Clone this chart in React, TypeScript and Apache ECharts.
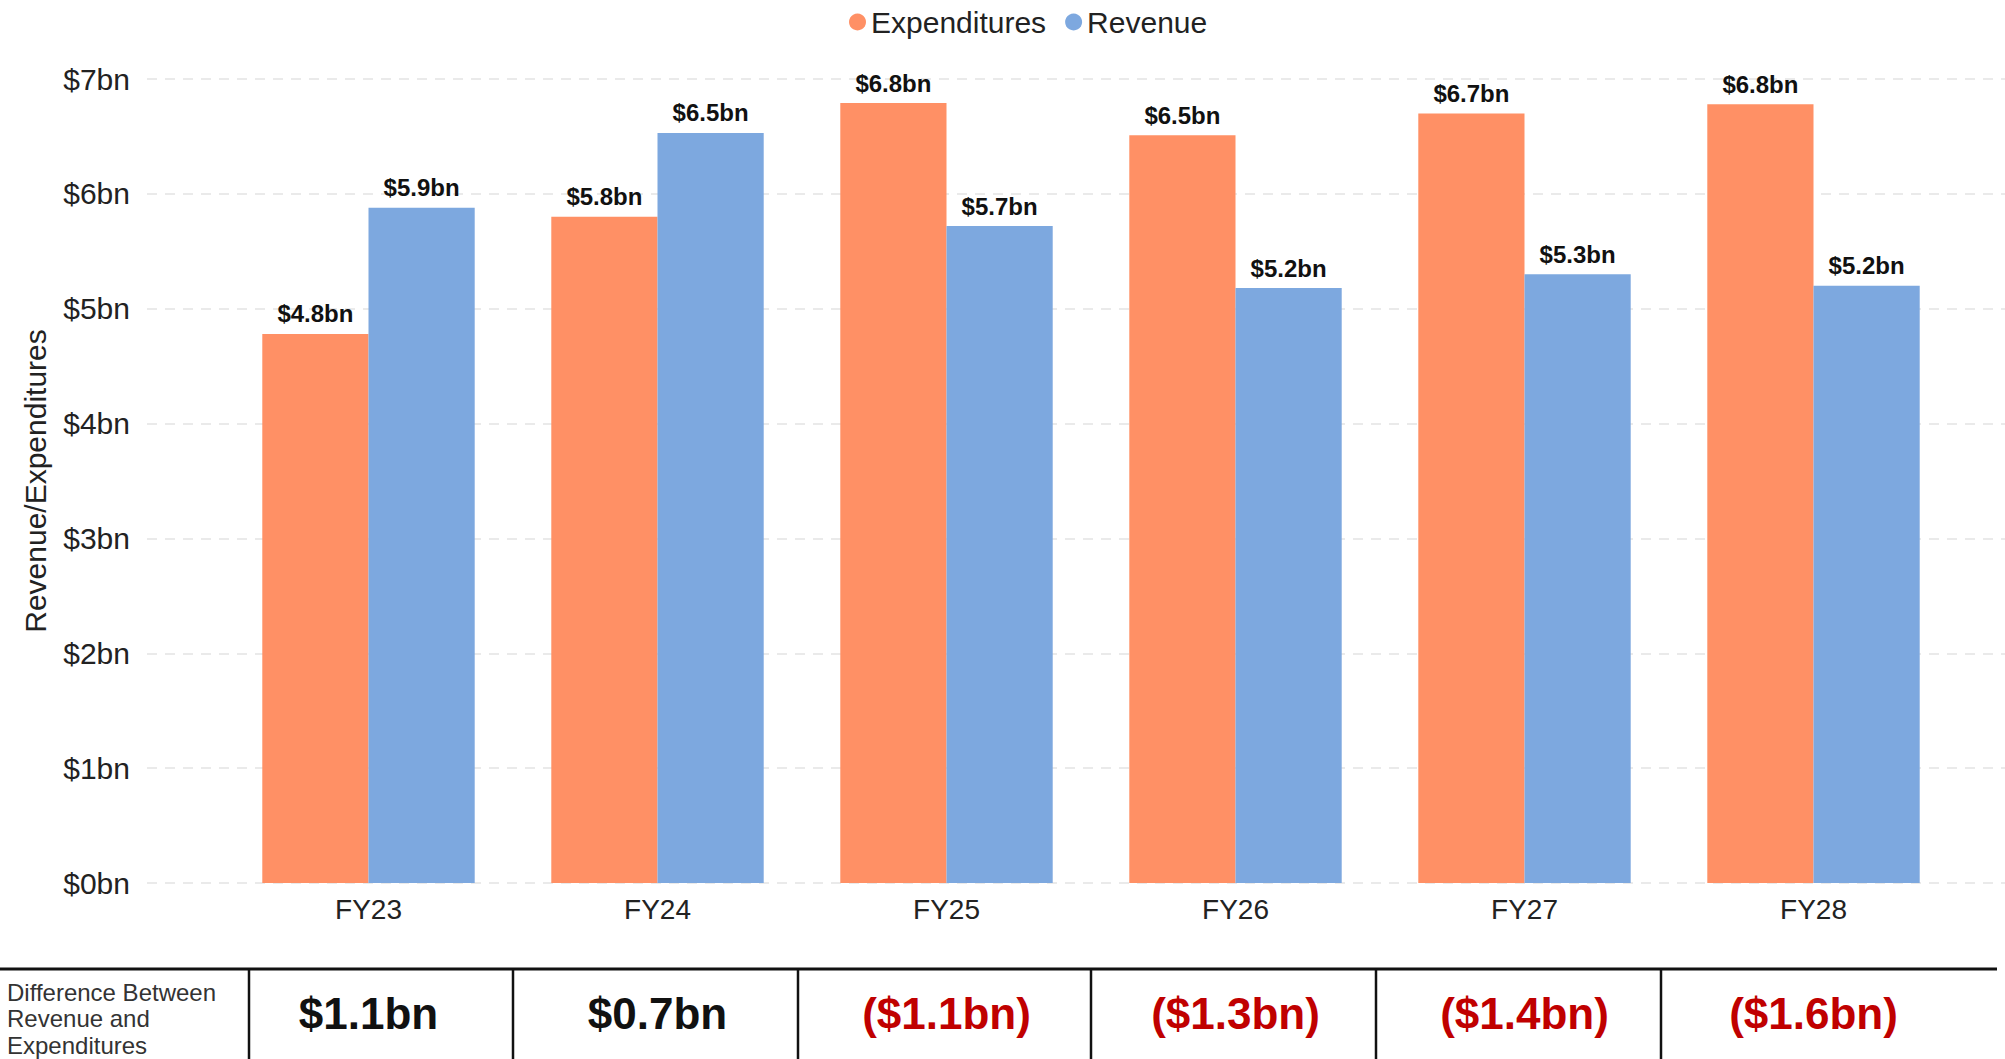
import React, { useEffect, useRef } from "react";
import * as echarts from "echarts";

const categories = ["FY23", "FY24", "FY25", "FY26", "FY27", "FY28"];
const expenditures = [4.78, 5.8, 6.79, 6.51, 6.7, 6.78];
const revenue = [5.88, 6.53, 5.72, 5.18, 5.3, 5.2];
const differenceLabels = ["$1.1bn", "$0.7bn", "($1.1bn)", "($1.3bn)", "($1.4bn)", "($1.6bn)"];
const yTicks = [0, 1, 2, 3, 4, 5, 6, 7];
const tableDividerX = [249, 513, 798, 1091, 1376, 1661];

const FONT = "'Liberation Sans', Arial, Helvetica, sans-serif";
const ORANGE = "#FF9065";
const BLUE = "#7DA8DF";

export default function App() {
  const ref = useRef<HTMLDivElement>(null);

  useEffect(() => {
    if (!ref.current) return;
    const chart = echarts.init(ref.current, undefined, { renderer: "svg" });
    const fmt = (v: number) => "$" + v.toFixed(1) + "bn";

    const graphics: any[] = [
      {
        type: "line",
        shape: { x1: 0, y1: 969, x2: 1997, y2: 969 },
        style: { stroke: "#111", lineWidth: 3 },
      },
      ...tableDividerX.map((x) => ({
        type: "line",
        shape: { x1: x, y1: 969, x2: x, y2: 1059 },
        style: { stroke: "#111", lineWidth: 2.5 },
      })),
      {
        type: "text",
        left: 7,
        top: 979,
        style: {
          text: "Difference Between\nRevenue and\nExpenditures",
          fontSize: 24,
          lineHeight: 26.5,
          fill: "#333",
          fontFamily: FONT,
        },
      },
    ];

    const barLabel = {
      show: true,
      position: "top",
      distance: 8,
      fontSize: 24,
      fontWeight: "bold",
      color: "#111",
      fontFamily: FONT,
      formatter: (p: any) => fmt(p.value),
    };

    chart.setOption({
      animation: false,
      backgroundColor: "#fff",
      textStyle: { fontFamily: FONT },
      legend: {
        top: 2,
        left: 844,
        icon: "circle",
        itemWidth: 17,
        itemHeight: 17,
        itemGap: 19,
        textStyle: { fontSize: 30, color: "#222", fontFamily: FONT },
        data: ["Expenditures", "Revenue"],
      },
      grid: [
        { left: 147, right: 0, top: 79, bottom: 176 },
        { left: 224, width: 1734, top: 79, bottom: 176 },
      ],
      xAxis: [
        { type: "value", gridIndex: 0, show: false, min: 0, max: 1 },
        {
          type: "category",
          gridIndex: 1,
          data: categories,
          axisLine: { show: false },
          axisTick: { show: false },
          axisLabel: { fontSize: 28, color: "#222", margin: 12, fontFamily: FONT },
        },
        {
          type: "category",
          gridIndex: 1,
          position: "bottom",
          offset: 98,
          data: differenceLabels,
          axisLine: { show: false },
          axisTick: { show: false },
          axisLabel: {
            margin: 10,
            formatter: (v: string) => (v.startsWith("(") ? "{neg|" + v + "}" : "{pos|" + v + "}"),
            rich: {
              pos: { fontSize: 44, fontWeight: "bold", color: "#111", fontFamily: FONT },
              neg: { fontSize: 44, fontWeight: "bold", color: "#C00000", fontFamily: FONT },
            },
          },
        },
      ],
      yAxis: [
        {
          type: "value",
          gridIndex: 0,
          min: yTicks[0],
          max: yTicks[yTicks.length - 1],
          interval: 1,
          axisLine: { show: false },
          axisTick: { show: false },
          axisLabel: {
            fontSize: 30,
            color: "#222",
            margin: 17,
            fontFamily: FONT,
            formatter: (v: number) => "$" + v + "bn",
          },
          splitLine: { lineStyle: { color: "#e3e3e3", type: [10, 8], width: 1.5 } },
          name: "Revenue/Expenditures",
          nameLocation: "middle",
          nameRotate: 90,
          nameGap: 97,
          nameTextStyle: { fontSize: 30, color: "#222", fontFamily: FONT },
        },
        {
          type: "value",
          gridIndex: 1,
          min: yTicks[0],
          max: yTicks[yTicks.length - 1],
          interval: 1,
          show: false,
          splitLine: { show: false },
        },
      ],
      series: [
        {
          name: "Expenditures",
          type: "bar",
          xAxisIndex: 1,
          yAxisIndex: 1,
          data: expenditures,
          barGap: "0%",
          barCategoryGap: "26.5%",
          itemStyle: { color: ORANGE },
          label: barLabel,
        },
        {
          name: "Revenue",
          type: "bar",
          xAxisIndex: 1,
          yAxisIndex: 1,
          data: revenue,
          barGap: "0%",
          barCategoryGap: "26.5%",
          itemStyle: { color: BLUE },
          label: barLabel,
        },
      ],
      graphic: graphics,
    });

    return () => chart.dispose();
  }, []);

  return (
    <div
      ref={ref}
      style={{ position: "fixed", left: 0, top: 0, width: 2005, height: 1059, background: "#fff" }}
    />
  );
}
